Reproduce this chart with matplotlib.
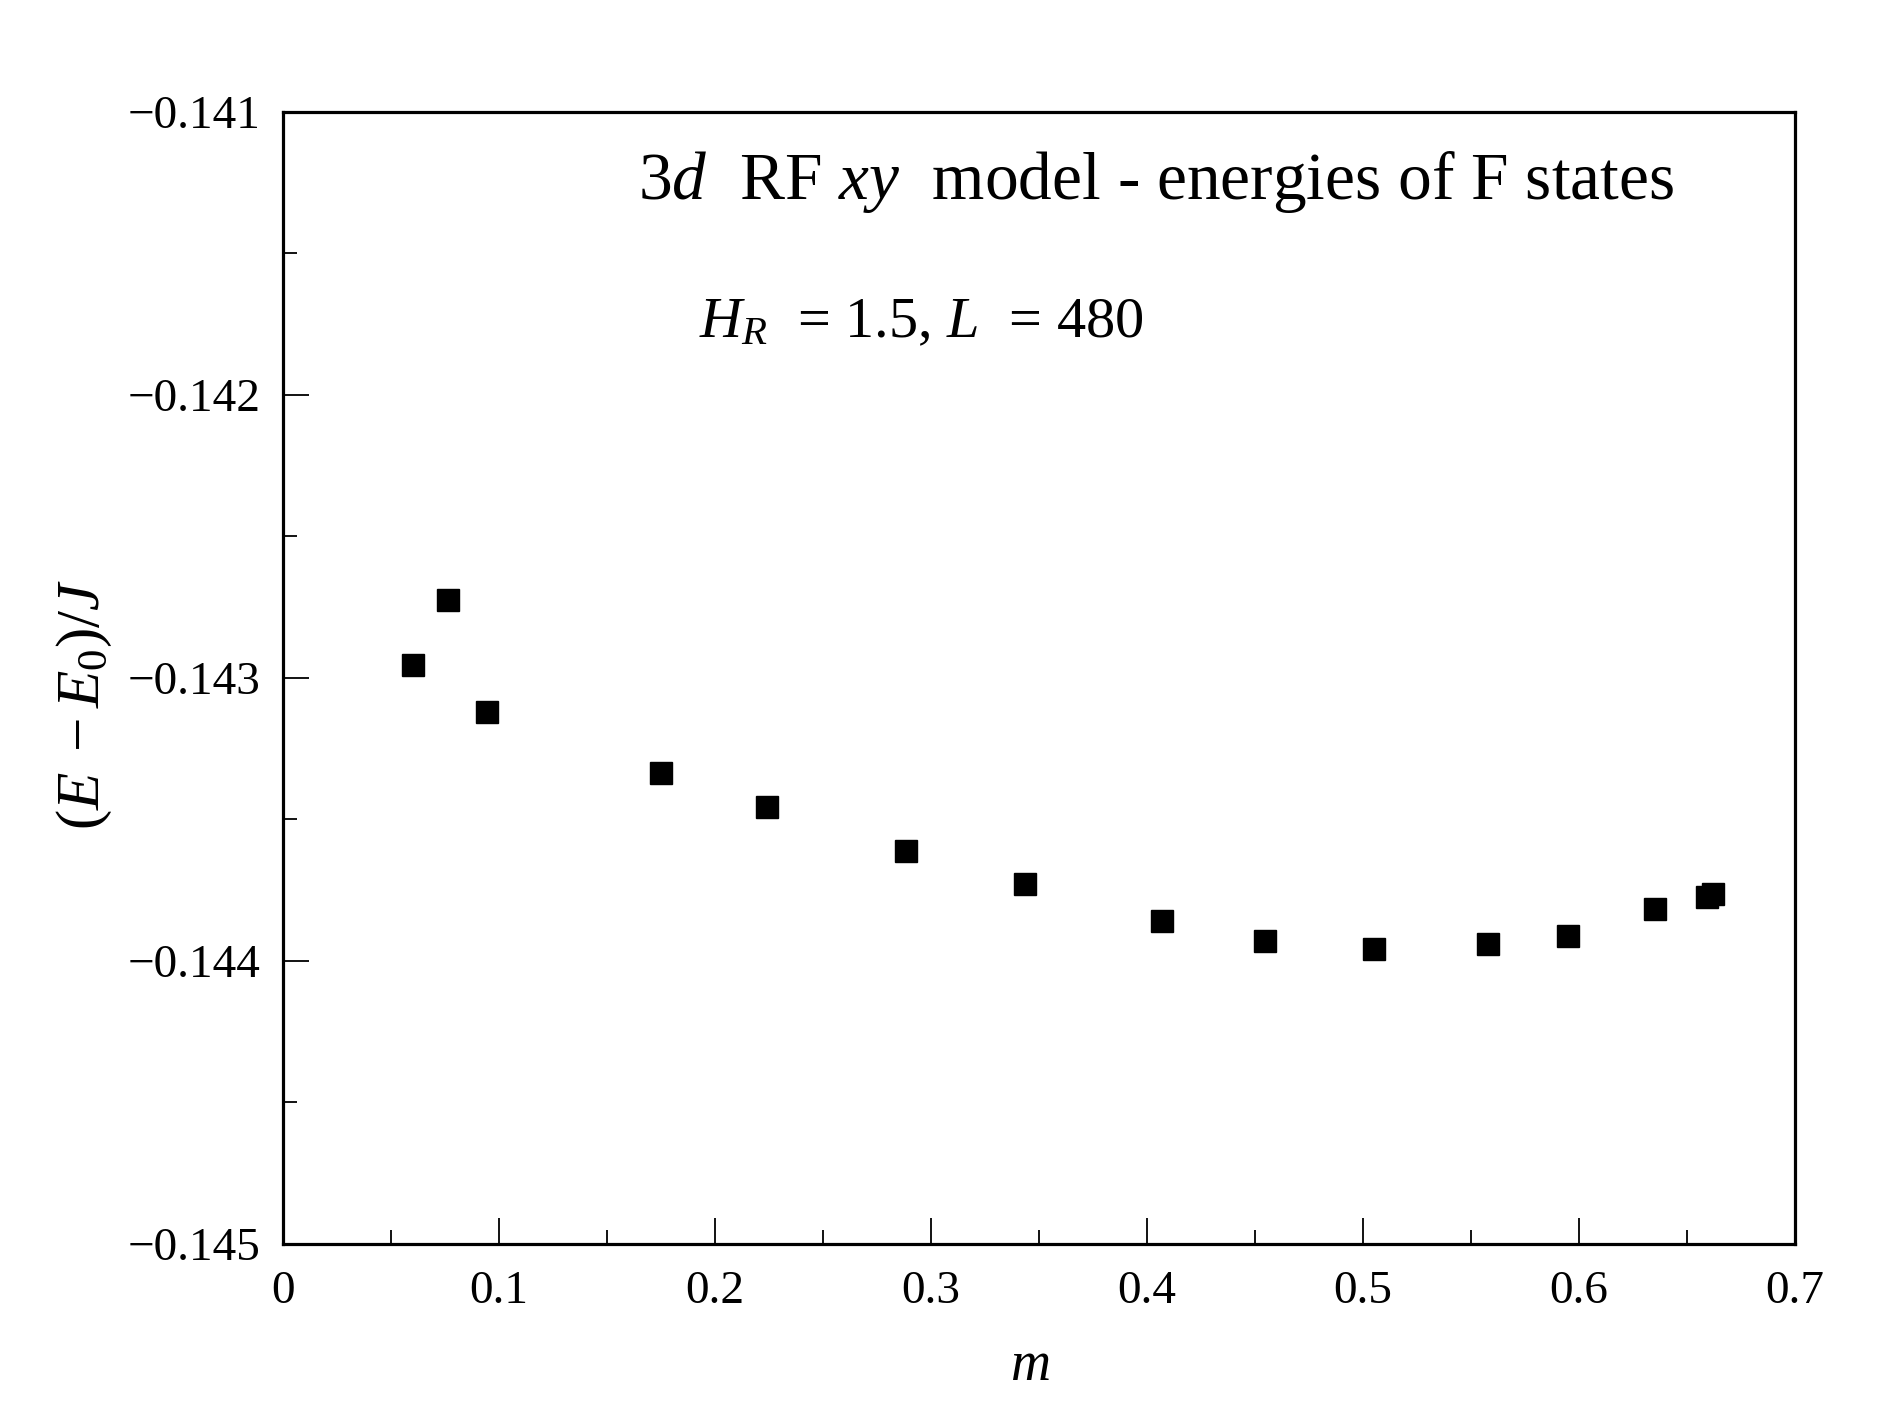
import matplotlib

matplotlib.use("Agg")
import matplotlib.pyplot as plt
from matplotlib.ticker import MultipleLocator

# Magnetization of the F states and their energies (E - E0)/J.
m_values = [
    0.0602, 0.0764, 0.0943, 0.1751, 0.2242, 0.2884, 0.3436,
    0.4072, 0.4546, 0.5053, 0.5578, 0.5951, 0.6353, 0.6593, 0.6620,
]
energies = [
    -0.142953, -0.142723, -0.143119, -0.143336, -0.143455, -0.143613, -0.143728,
    -0.143860, -0.143928, -0.143957, -0.143940, -0.143911, -0.143817, -0.143775, -0.143765,
]
x_ticks = [0, 0.1, 0.2, 0.3, 0.4, 0.5, 0.6, 0.7]
x_tick_labels = ["0", "0.1", "0.2", "0.3", "0.4", "0.5", "0.6", "0.7"]
y_ticks = [-0.145, -0.144, -0.143, -0.142, -0.141]
y_tick_labels = ["\u22120.145", "\u22120.144", "\u22120.143", "\u22120.142", "\u22120.141"]

plt.rcParams["font.family"] = ["Liberation Serif", "DejaVu Serif"]
plt.rcParams["mathtext.fontset"] = "custom"
plt.rcParams["mathtext.rm"] = "Liberation Serif"
plt.rcParams["mathtext.it"] = "Liberation Serif:italic"
plt.rcParams["mathtext.bf"] = "Liberation Serif:bold"

fig = plt.figure(figsize=(18.89, 14.17), dpi=100)
ax = fig.add_axes([0.1498, 0.1221, 0.8004, 0.7989])

ax.plot(
    m_values,
    energies,
    linestyle="none",
    marker="s",
    markersize=15.5,
    color="black",
)

ax.set_xlim(0, 0.7)
ax.set_ylim(-0.145, -0.141)

ax.set_xticks(x_ticks)
ax.set_xticklabels(x_tick_labels)
ax.set_yticks(y_ticks)
ax.set_yticklabels(y_tick_labels)
ax.xaxis.set_minor_locator(MultipleLocator(0.05))
ax.yaxis.set_minor_locator(MultipleLocator(0.0005))

ax.tick_params(which="both", direction="in", top=False, right=False, width=1.3)
ax.tick_params(which="major", length=19, labelsize=34)
ax.tick_params(which="minor", length=10)
ax.tick_params(axis="x", pad=19)
ax.tick_params(axis="y", pad=16)

for spine in ax.spines.values():
    spine.set_linewidth(2.3)

ax.set_xlabel(r"$m$", fontsize=40)
ax.xaxis.set_label_coords(0.494, -0.085)
ax.set_ylabel(r"$(E\;-E_0)/J$", fontsize=44)
ax.yaxis.set_label_coords(-0.112, 0.477)

ax.text(
    0.235, 0.923,
    r"3$d$  RF $xy$  model - energies of F states",
    transform=ax.transAxes,
    fontsize=48.5,
    ha="left",
    va="baseline",
)
ax.text(
    0.275, 0.801,
    r"$H_R$  = 1.5, $L$  = 480",
    transform=ax.transAxes,
    fontsize=42,
    ha="left",
    va="baseline",
)

fig.savefig("out.png", dpi=100)
